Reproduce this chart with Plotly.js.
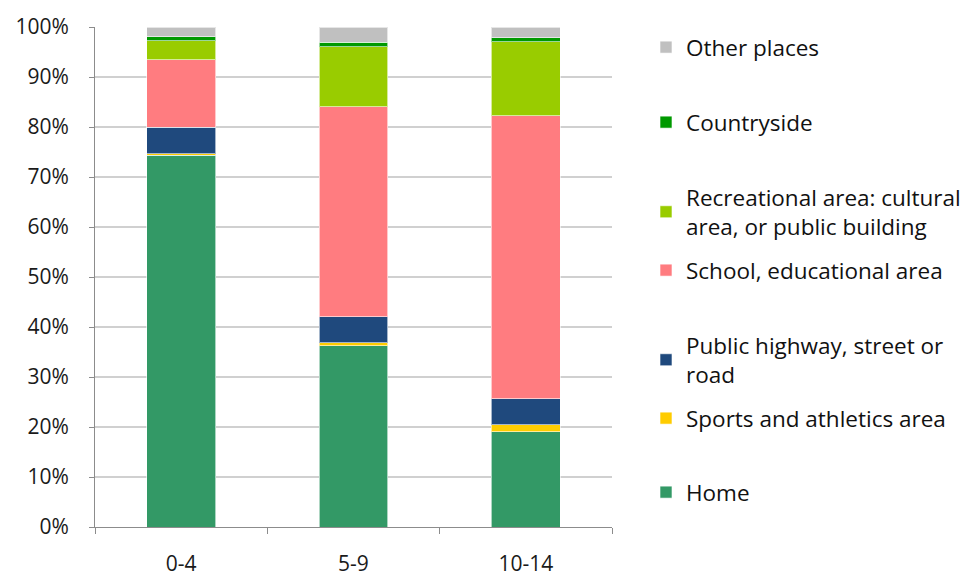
<!DOCTYPE html>
<html>
<head>
<meta charset="utf-8">
<script src="https://cdn.plot.ly/plotly-3.0.1.min.js"></script>
<style>html,body{margin:0;padding:0;background:#fff;}#chart{width:972px;height:578px;}</style>
</head>
<body>
<div id="chart"></div>
<script>
const ageGroups = ["0-4", "5-9", "10-14"];
const home = [74.4, 36.3, 19.1];
const sports = [0.3, 0.6, 1.4];
const highway = [5.3, 5.2, 5.2];
const school = [13.5, 42.0, 56.6];
const recreational = [3.8, 12.0, 14.8];
const countryside = [0.8, 0.9, 0.8];
const otherPlaces = [1.9, 3.0, 2.1];

const seriesNames = [
  "Home",
  "Sports and athletics area",
  "Public highway, street or<br>road",
  "School, educational area",
  "Recreational area: cultural<br>area, or public building",
  "Countryside",
  "Other places"
];
const seriesValues = [home, sports, highway, school, recreational, countryside, otherPlaces];
const seriesColors = ["#339966", "#FFCC00", "#1F497D", "#FF7C80", "#99CC00", "#009900", "#C0C0C0"];
// legend first-line centre positions in pixels
const legendPy = [492, 418, 345, 270, 197, 122, 47];

const plotL = 95, plotW = 517, plotT = 27, plotH = 500;
const legendIds = ["legend", "legend2", "legend3", "legend4", "legend5", "legend6", "legend7"];

const traces = seriesNames.map((n, i) => ({
  type: "bar",
  name: n,
  x: ageGroups,
  y: seriesValues[i],
  marker: {color: seriesColors[i], line: {color: "rgba(255,255,255,0.6)", width: 1}},
  legend: legendIds[i],
  hoverinfo: "name+y"
}));

const layout = {
  width: 972, height: 578,
  barmode: "stack",
  bargap: 0.6,
  paper_bgcolor: "#fff",
  plot_bgcolor: "#fff",
  font: {family: "Open Sans, sans-serif", size: 21, color: "#1a1a1a"},
  margin: {l: plotL, r: 972 - plotL - plotW, t: plotT, b: 578 - plotT - plotH, autoexpand: false},
  xaxis: {
    type: "category",
    showline: true, linecolor: "#8c8c8c", linewidth: 1,
    ticks: "outside", ticklen: 6, tickcolor: "#8c8c8c",
    tickson: "boundaries",
    ticklabelstandoff: 18,
    showgrid: false
  },
  yaxis: {
    range: [0, 100], dtick: 10, ticksuffix: "%",
    showline: true, linecolor: "#8c8c8c", linewidth: 1,
    ticks: "outside", ticklen: 5, tickcolor: "#8c8c8c",
    ticklabelstandoff: 16,
    showgrid: true, gridcolor: "#d0d0d0", gridwidth: 1.5,
    zeroline: false, fixedrange: true
  },
  showlegend: true
};

legendIds.forEach((id, i) => {
  layout[id] = {
    x: (646 - plotL) / plotW,
    xanchor: "left",
    y: (plotT + plotH - (legendPy[i] - 21)) / plotH,
    yanchor: "top",
    bgcolor: "rgba(0,0,0,0)",
    font: {family: "Open Sans, sans-serif", size: 22.5, color: "#111"},
    itemclick: false, itemdoubleclick: false
  };
});

Plotly.newPlot("chart", traces, layout, {displayModeBar: false, staticPlot: true});
</script>
</body>
</html>
